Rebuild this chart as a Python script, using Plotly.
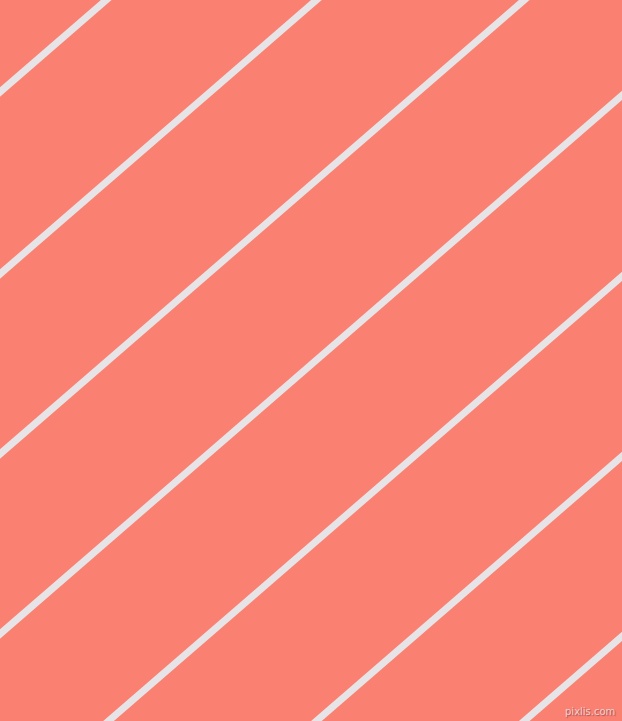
import plotly.graph_objects as go

# stripe positions: where each stripe crosses the left edge (x=0), in pixels from the top
stripe_starts = [92, 274, 454, 634, 815, 995, 1175]
stripe_slope = 0.866  # pixels down per pixel left (about 41 degrees)
x_span = [-20, 660]

bg_color = "#FA8072"
stripe_color = "#E7E4E7"

fig = go.Figure()

for b in stripe_starts:
    fig.add_trace(go.Scatter(
        x=x_span,
        y=[b - stripe_slope * x for x in x_span],
        mode="lines",
        line=dict(color=stripe_color, width=7),
        hoverinfo="skip",
        showlegend=False,
    ))

fig.add_annotation(
    text="pixlis.com", x=617, y=711, xanchor="right", yanchor="middle",
    showarrow=False,
    font=dict(family="DejaVu Sans", size=10, color="rgba(240,215,215,0.95)",
              shadow="1px 1px 1px rgba(140,70,70,0.8)"),
)

fig.update_xaxes(range=[0, 622], visible=False, fixedrange=True)
fig.update_yaxes(range=[721, 0], visible=False, fixedrange=True)
fig.update_layout(
    width=622, height=721,
    margin=dict(l=0, r=0, t=0, b=0),
    paper_bgcolor=bg_color, plot_bgcolor=bg_color,
)

# the page has a default body margin, drop it so the chart fills the window
fig.write_html("out.html", config={"displayModeBar": False},
               post_script="document.body.style.margin='0';document.body.style.overflow='hidden';")
